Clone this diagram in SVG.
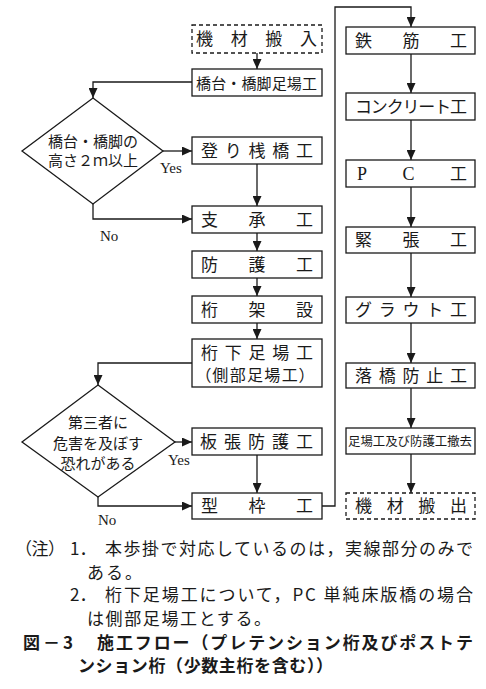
<svg xmlns="http://www.w3.org/2000/svg" width="486" height="689" viewBox="0 0 486 689">
<style>
.box{fill:#fff;stroke:#1a1a1a;stroke-width:1.3}
.dash{fill:#fff;stroke:#1a1a1a;stroke-width:1.3;stroke-dasharray:4 3}
.t{font-family:"Noto Sans CJK JP","Liberation Serif",sans-serif;font-size:17px;fill:#1a1a1a}
.s{font-size:12.5px}
.d{font-family:"Noto Sans CJK JP",sans-serif;font-size:15px;fill:#1a1a1a;text-anchor:middle}
.l{font-family:"Liberation Serif",serif;font-size:15px;fill:#1a1a1a}
.n{font-family:"Noto Sans CJK JP",sans-serif;font-size:17px;fill:#1a1a1a}
.p{font-feature-settings:"palt"}
.b{font-weight:bold}
.c{fill:none;stroke:#1a1a1a;stroke-width:1.3}
</style>
<defs>
<marker id="ah" markerUnits="userSpaceOnUse" markerWidth="10" markerHeight="9" refX="10" refY="4.5" orient="auto">
<path d="M0,0 L10,4.5 L0,9 z" fill="#1a1a1a"/>
</marker>
</defs>
<g id="connectors">
<path class="c" d="M257,53 V69" marker-end="url(#ah)"/>
<path class="c" d="M192,82 H93 V98" marker-end="url(#ah)"/>
<path class="c" d="M163,151 H192" marker-end="url(#ah)"/>
<path class="c" d="M257,164 V206" marker-end="url(#ah)"/>
<path class="c" d="M93,204 V219 H192" marker-end="url(#ah)"/>
<path class="c" d="M257,233 V251" marker-end="url(#ah)"/>
<path class="c" d="M257,278 V296" marker-end="url(#ah)"/>
<path class="c" d="M257,323 V339" marker-end="url(#ah)"/>
<path class="c" d="M192,363 H98 V385" marker-end="url(#ah)"/>
<path class="c" d="M175,442 H192" marker-end="url(#ah)"/>
<path class="c" d="M257,455 V493" marker-end="url(#ah)"/>
<path class="c" d="M98,497 V506 H192" marker-end="url(#ah)"/>
<path class="c" d="M322,506 H335 V7 H411 V27" marker-end="url(#ah)"/>
<path class="c" d="M411,54 V93" marker-end="url(#ah)"/>
<path class="c" d="M411,120 V160" marker-end="url(#ah)"/>
<path class="c" d="M411,187 V227" marker-end="url(#ah)"/>
<path class="c" d="M411,253 V297" marker-end="url(#ah)"/>
<path class="c" d="M411,323 V363" marker-end="url(#ah)"/>
<path class="c" d="M411,388 V428" marker-end="url(#ah)"/>
<path class="c" d="M411,454 V493" marker-end="url(#ah)"/>
<text class="l" x="160" y="173">Yes</text>
<text class="l" x="100" y="241">No</text>
<text class="l" x="168" y="465">Yes</text>
<text class="l" x="98" y="525">No</text>
</g>
<g id="kizai-hannyu"><rect class="dash" x="192" y="25" width="130" height="28"/><text class="t" x="196" y="45" textLength="121" lengthAdjust="spacing">機材搬入</text></g>
<g id="kyodai-ashiba"><rect class="box" x="192" y="69" width="130" height="27"/><text class="t" x="196" y="88.5" style="font-size:15px" textLength="121" lengthAdjust="spacing">橋台・橋脚足場工</text></g>
<g id="decision1"><polygon class="box" points="93,98 163,151 93,204 22,151"/><text class="d"><tspan x="93" y="147">橋台・橋脚の</tspan><tspan x="93" y="166">高さ２ｍ以上</tspan></text></g>
<g id="nobori"><rect class="box" x="192" y="137" width="130" height="27"/><text class="t" x="201" y="156.5" textLength="112" lengthAdjust="spacing">登り桟橋工</text></g>
<g id="shisho"><rect class="box" x="192" y="206" width="130" height="27"/><text class="t" x="201" y="225.5" textLength="112" lengthAdjust="spacing">支承工</text></g>
<g id="bogo"><rect class="box" x="192" y="251" width="130" height="27"/><text class="t" x="201" y="270.5" textLength="112" lengthAdjust="spacing">防護工</text></g>
<g id="kekasetsu"><rect class="box" x="192" y="296" width="130" height="27"/><text class="t" x="201" y="315.5" textLength="112" lengthAdjust="spacing">桁架設</text></g>
<g id="ketashita"><rect class="box" x="192" y="339" width="130" height="48"/><text class="t" x="201" y="359" textLength="112" lengthAdjust="spacing">桁下足場工</text><text class="t p" x="203" y="381" style="font-size:16px" textLength="104" lengthAdjust="spacing">（側部足場工）</text></g>
<g id="decision2"><polygon class="box" points="98,385 175,442 98,497 22,442"/><text class="d" style="font-size:15px"><tspan x="98" y="428">第三者に</tspan><tspan x="98" y="448.5">危害を及ぼす</tspan><tspan x="98" y="469">恐れがある</tspan></text></g>
<g id="itabari"><rect class="box" x="192" y="428" width="130" height="27"/><text class="t" x="200" y="447.5" textLength="113" lengthAdjust="spacing">板張防護工</text></g>
<g id="katawaku"><rect class="box" x="192" y="493" width="130" height="26"/><text class="t" x="201" y="512" textLength="112" lengthAdjust="spacing">型枠工</text></g>
<g id="tekkin"><rect class="box" x="346" y="27" width="129" height="27"/><text class="t" x="355" y="46.5" textLength="112" lengthAdjust="spacing">鉄筋工</text></g>
<g id="concrete"><rect class="box" x="346" y="93" width="129" height="27"/><text class="t" x="355" y="112.5" textLength="112" lengthAdjust="spacing">コンクリート工</text></g>
<g id="pc"><rect class="box" x="346" y="160" width="129" height="27"/><text class="t" x="357" y="179.5" textLength="110" lengthAdjust="spacing" style="font-family:'Liberation Serif','Noto Sans CJK JP',serif;font-size:18px">PC<tspan style="font-family:'Noto Sans CJK JP',sans-serif;font-size:17px">工</tspan></text></g>
<g id="kincho"><rect class="box" x="346" y="227" width="129" height="26"/><text class="t" x="355" y="246" textLength="112" lengthAdjust="spacing">緊張工</text></g>
<g id="grout"><rect class="box" x="346" y="297" width="129" height="26"/><text class="t" x="355" y="316" textLength="112" lengthAdjust="spacing">グラウト工</text></g>
<g id="rakkyo"><rect class="box" x="346" y="363" width="129" height="25"/><text class="t" x="355" y="381.5" textLength="112" lengthAdjust="spacing">落橋防止工</text></g>
<g id="tekkyo"><rect class="box" x="346" y="428" width="129" height="26"/><text class="t s" x="348" y="446" textLength="124" lengthAdjust="spacingAndGlyphs">足場工及び防護工撤去</text></g>
<g id="kizai-hanshutsu"><rect class="dash" x="346" y="493" width="129" height="26"/><text class="t" x="355" y="512" textLength="112" lengthAdjust="spacing">機材搬出</text></g>
<g id="notes">
<text class="n p" x="23" y="555">（注）</text>
<text class="n" x="70" y="555">1．</text>
<text class="n" x="105" y="555" textLength="368" lengthAdjust="spacing">本歩掛で対応しているのは，実線部分のみで</text>
<text class="n" x="87" y="579" textLength="55" lengthAdjust="spacing">ある。</text>
<text class="n" x="70" y="601">2．</text>
<text class="n" x="105" y="601" textLength="368" lengthAdjust="spacing">桁下足場工について，PC 単純床版橋の場合</text>
<text class="n" x="87" y="625" textLength="184" lengthAdjust="spacing">は側部足場工とする。</text>
<text class="n b" x="23" y="649" textLength="50" lengthAdjust="spacing">図－3</text>
<text class="n b" x="97" y="649" textLength="376" lengthAdjust="spacing">施工フロー（プレテンション桁及びポストテ</text>
<text class="n b" x="78" y="672" textLength="255" lengthAdjust="spacing">ンション桁（少数主桁を含む））</text>
</g>
</svg>
